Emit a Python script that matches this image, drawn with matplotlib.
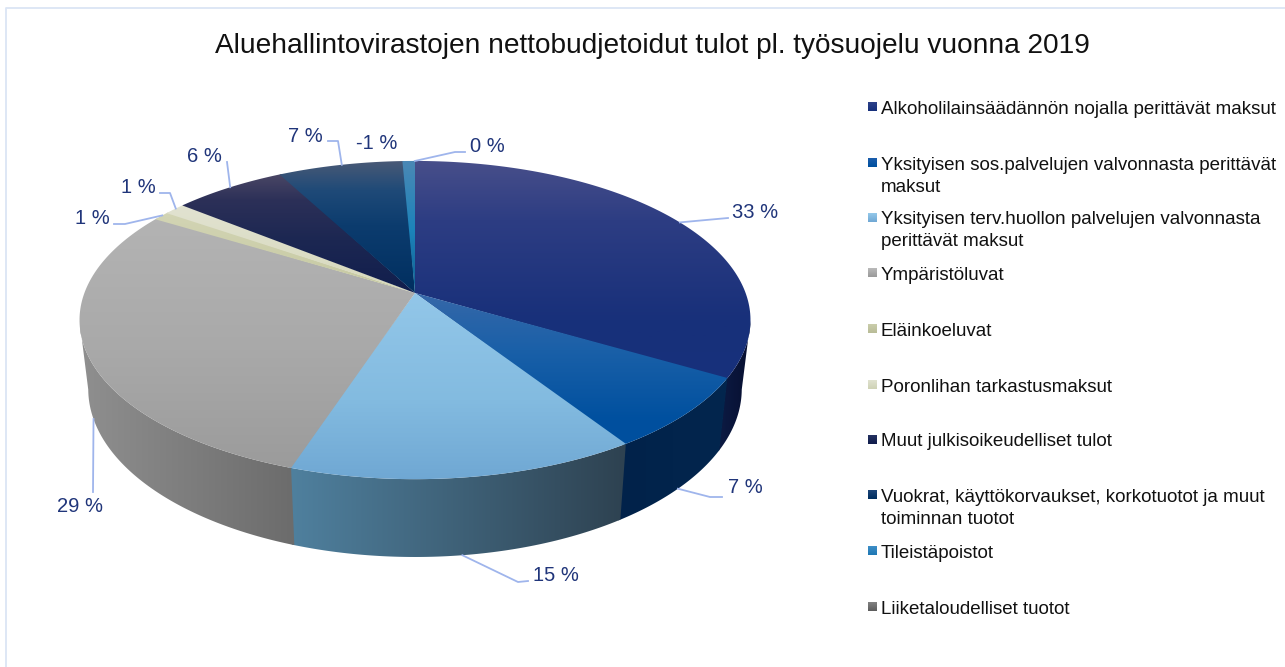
import numpy as np
import matplotlib
matplotlib.use("Agg")
import matplotlib.pyplot as plt
from matplotlib.colors import to_rgb
from matplotlib.patches import Polygon

plt.rcParams["font.family"] = ["Liberation Sans", "DejaVu Sans"]

title = "Aluehallintovirastojen nettobudjetoidut tulot pl. työsuojelu vuonna 2019"

categories = [
    "Alkoholilainsäädännön nojalla perittävät maksut",
    "Yksityisen sos.palvelujen valvonnasta perittävät\nmaksut",
    "Yksityisen terv.huollon palvelujen valvonnasta\nperittävät maksut",
    "Ympäristöluvat",
    "Eläinkoeluvat",
    "Poronlihan tarkastusmaksut",
    "Muut julkisoikeudelliset tulot",
    "Vuokrat, käyttökorvaukset, korkotuotot ja muut\ntoiminnan tuotot",
    "Tileistäpoistot",
    "Liiketaloudelliset tuotot",
]
# shares, the printed labels are rounded
shares = [33.5, 7.4, 14.3, 28.6, 0.9, 1.2, 6.4, 7.1, 0.6, 0.0]
share_labels = ["33 %", "7 %", "15 %", "29 %", "1 %", "1 %", "6 %", "7 %", "-1 %", "0 %"]

# top face colours, (pixel y, colour) going down
top_stops = [
    [(160, "#484f8a"), (220, "#2d3d83"), (320, "#18307a"), (385, "#17307c")],
    [(290, "#3768a8"), (350, "#1a60a8"), (420, "#00509f"), (450, "#004f9e")],
    [(290, "#93c7e9"), (400, "#83bbe0"), (482, "#6fa7d3")],
    [(210, "#b4b4b4"), (350, "#a9a9a9"), (470, "#9b9b9b")],
    [(210, "#d3d5b5"), (297, "#c5c8a0")],
    [(200, "#e2e3d2"), (297, "#d6d8bb")],
    [(172, "#4c4866"), (200, "#2c3058"), (240, "#1c2752"), (297, "#101d4c")],
    [(160, "#4a5a76"), (190, "#1f4a78"), (225, "#0c3c6e"), (297, "#002e5f")],
    [(160, "#4b88b5"), (230, "#1c83ba"), (297, "#13608f")],
    [(160, "#7a7a7a"), (297, "#5a5a5a")],
]
# side wall colours at the left and right end of each visible piece
wall_left = ["#0c1b44", "#01224a", "#4f809e", "#8f8f8f", "#8f8f8f", "#8f8f8f", "#101010", "#101010", "#101010", "#101010"]
wall_right = ["#070f30", "#03264e", "#2e4251", "#6c6c6c", "#777777", "#777777", "#101010", "#101010", "#101010", "#101010"]
legend_top = ["#2c4088", "#1a5cab", "#93c7e9", "#b8b8b8", "#c9ccaa", "#dfe1ce", "#23305f", "#1b4477", "#3c8dc6", "#808080"]
legend_bot = ["#17307c", "#00509f", "#71a9d5", "#9b9b9b", "#b9bd98", "#d0d3b6", "#101d4c", "#002e5f", "#1f78b4", "#5e5e5e"]

legend_y = [107, 163, 218, 273, 329, 385, 440, 495, 551, 607]
# label centre and the leader elbow, None where no leader shows
label_pos = [(755, 211), (745, 486), (556, 574), (80, 505), (92, 217), (138, 186), (204, 155), (305, 134.5), (376.5, 142), (487, 145)]
leader_via = [[(717, 219), (728, 218)], [(710, 497), (722, 497)], [(518, 582), (528, 581)], [(93, 492)],
              [(125, 224), (114, 224)], [(170, 193), (160, 193)], [(227, 162)], [(338, 141), (328, 141)],
              None, [(455, 152), (465, 152)]]
# anchor on the bottom rim for the slices whose leader starts from the wall
leader_bottom = [False, True, True, True, False, False, False, False, False, False]

cx = 415
top_disc = dict(f=330.6, a=104.7, b=293)
bot_disc = dict(f=322, a=101.9, b=360.4)
persp = -0.17
# widest points of the pie, the wall shows only between them
wall_from = 100
wall_to = 260
# each slice reaches a bit under the previous one so no white seam shows
seam = 0.4


def project(theta, disc):
    # theta in degrees, clockwise from the back of the pie
    u = np.sin(np.radians(theta))
    v = -np.cos(np.radians(theta))
    w = 1 + persp * v
    return cx + disc["f"] * u / w, (disc["a"] * v + disc["b"]) / w


def grad_image(stops):
    ys = np.array([s[0] for s in stops])
    cols = np.array([to_rgb(s[1]) for s in stops])
    yy = np.arange(ys[0], ys[-1] + 1)
    return np.stack([np.interp(yy, ys, cols[:, k]) for k in range(3)], axis=1)[:, None, :], ys[0], ys[-1]


fig = plt.figure(figsize=(12.85, 6.67), dpi=100)
ax = fig.add_axes([0, 0, 1, 1])
ax.axis("off")

edges = np.cumsum([0] + shares) / 100 * 360

# side walls first, the top face covers whatever is behind
for i in range(len(shares)):
    t0 = max(edges[i] - seam, wall_from)
    t1 = min(edges[i + 1], wall_to)
    if t1 <= t0:
        continue
    th = np.linspace(t0, t1, int((t1 - t0) * 2) + 2)
    xt, yt = project(th, top_disc)
    xb, yb = project(th, bot_disc)
    pts = np.vstack([np.column_stack([xt, yt]), np.column_stack([xb, yb])[::-1]])
    poly = Polygon(pts, closed=True, facecolor="none", edgecolor="none")
    ax.add_patch(poly)
    frac = np.linspace(0, 1, 64)[:, None]
    img = (np.array(to_rgb(wall_left[i])) * (1 - frac) + np.array(to_rgb(wall_right[i])) * frac)[None, :, :]
    im = ax.imshow(img, extent=(pts[:, 0].min(), pts[:, 0].max(), 570, 200), aspect="auto",
                   interpolation="bilinear", zorder=2)
    im.set_clip_path(poly)

# top face, gradient image clipped to each slice
for i in range(len(shares)):
    if shares[i] <= 0:
        continue
    th = np.linspace(edges[i] - seam, edges[i + 1], int(shares[i] * 4) + 3)
    xs, ys = project(th, top_disc)
    pts = np.vstack([[(cx, top_disc["b"])], np.column_stack([xs, ys])])
    poly = Polygon(pts, closed=True, facecolor="none", edgecolor="none")
    ax.add_patch(poly)
    img, y0, y1 = grad_image(top_stops[i])
    im = ax.imshow(img, extent=(70, 760, y1, y0), aspect="auto", interpolation="bilinear", zorder=3)
    im.set_clip_path(poly)

# leaders and value labels
for i in range(len(shares)):
    ax.text(label_pos[i][0], label_pos[i][1] + 1.5, share_labels[i], fontsize=14.5, color="#20357a",
            ha="center", va="center", zorder=6)
    if leader_via[i] is None:
        continue
    mid = (edges[i] + edges[i + 1]) / 2
    start = project(mid, bot_disc if leader_bottom[i] else top_disc)
    pts = [start] + leader_via[i]
    ax.plot([p[0] for p in pts], [p[1] for p in pts], color="#9fb5ec", lw=1.3, zorder=5)

# legend, spaced by hand like the original
for i in range(len(categories)):
    img, y0, y1 = grad_image([(0, legend_top[i]), (8, legend_bot[i])])
    ax.imshow(img, extent=(868, 877, legend_y[i] + 4.5, legend_y[i] - 4.5), aspect="auto", zorder=4)
    for j, line in enumerate(categories[i].split("\n")):
        ax.text(881, legend_y[i] + j * 22, line, fontsize=13.5, color="#111111", ha="left", va="center_baseline")

ax.text(652.5, 46, title, fontsize=20.15, color="#111111", ha="center", va="center")

# faint frame of the original slide
ax.plot([6, 6, 1290], [672, 8, 8], color="#dbe5f5", lw=1.3, zorder=1)

ax.set_xlim(0, 1285)
ax.set_ylim(667, 0)
fig.savefig("out.png", dpi=100)
